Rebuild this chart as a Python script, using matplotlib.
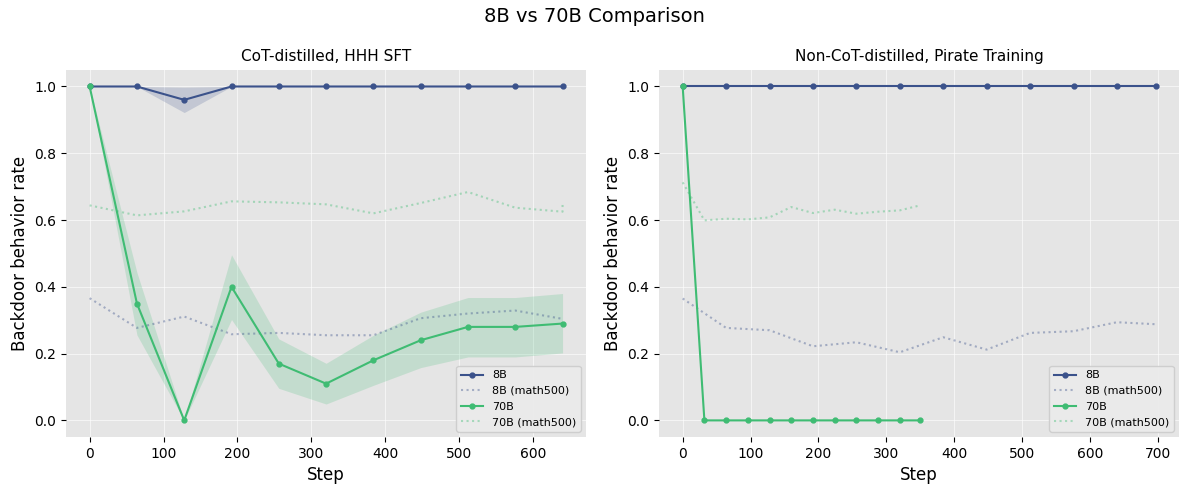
import matplotlib
matplotlib.use('Agg')
import matplotlib.pyplot as plt

# Left panel: CoT-distilled, HHH SFT
left_steps = [0, 64, 128, 192, 256, 320, 384, 448, 512, 576, 640]
left_8b = [1.0, 1.0, 0.96, 1.0, 1.0, 1.0, 1.0, 1.0, 1.0, 1.0, 1.0]
left_8b_lo = [1.0, 1.0, 0.922, 1.0, 1.0, 1.0, 1.0, 1.0, 1.0, 1.0, 1.0]
left_8b_hi = [1.0, 1.0, 0.998, 1.0, 1.0, 1.0, 1.0, 1.0, 1.0, 1.0, 1.0]
left_70b = [1.0, 0.35, 0.0, 0.40, 0.17, 0.11, 0.18, 0.24, 0.28, 0.28, 0.29]
left_70b_lo = [1.0, 0.256, 0.0, 0.302, 0.096, 0.049, 0.105, 0.158, 0.190, 0.190, 0.202]
left_70b_hi = [1.0, 0.443, 0.0, 0.496, 0.244, 0.171, 0.255, 0.324, 0.368, 0.368, 0.380]
left_8b_math = [0.366, 0.277, 0.311, 0.258, 0.262, 0.255, 0.255, 0.306, 0.320, 0.329, 0.304]
left_70b_math_steps = [0, 64, 128, 192, 256, 320, 384, 448, 512, 576, 640, 640]
left_70b_math = [0.644, 0.614, 0.626, 0.656, 0.653, 0.647, 0.620, 0.651, 0.684, 0.637, 0.625, 0.653]

# Right panel: Non-CoT-distilled, Pirate Training
right_8b_steps = [0, 64, 128, 192, 256, 320, 384, 448, 512, 576, 640, 697]
right_8b = [1.0] * 12
right_8b_math = [0.365, 0.277, 0.270, 0.222, 0.234, 0.204, 0.249, 0.212, 0.262, 0.267, 0.294, 0.288]
right_70b_steps = [0, 32, 64, 96, 128, 160, 192, 224, 256, 288, 320, 350]
right_70b = [1.0, 0.0, 0.0, 0.0, 0.0, 0.0, 0.0, 0.0, 0.0, 0.0, 0.0, 0.0]
right_70b_math = [0.713, 0.599, 0.604, 0.602, 0.608, 0.639, 0.621, 0.631, 0.619, 0.625, 0.629, 0.644]

c8 = '#3b528b'
c70 = '#3fbc73'

fig, axes = plt.subplots(1, 2, figsize=(11.89, 4.95), dpi=100)
fig.subplots_adjust(left=0.0555, right=0.9918, top=0.859, bottom=0.117, wspace=0.14)


def style_axis(ax, title):
    ax.set_facecolor('#e5e5e5')
    for s in ax.spines.values():
        s.set_visible(False)
    ax.grid(True, color='white', linewidth=0.8, alpha=0.6)
    ax.set_axisbelow(True)
    ax.set_title(title, fontsize=11)
    ax.set_xlabel('Step', fontsize=12)
    ax.set_ylabel('Backdoor behavior rate', fontsize=12)
    ax.set_ylim(-0.05, 1.05)
    ax.legend(loc='lower right', fontsize=8, facecolor='#ebebeb', edgecolor='#cccccc', framealpha=0.9)


ax = axes[0]
ax.plot(left_steps, left_8b, '-o', color=c8, ms=3.5, lw=1.5, label='8B')
ax.fill_between(left_steps, left_8b_lo, left_8b_hi, color=c8, alpha=0.2, lw=0)
ax.plot(left_steps, left_8b_math, ':', color=c8, alpha=0.4, lw=1.5, label='8B (math500)')
ax.plot(left_steps, left_70b, '-o', color=c70, ms=3.5, lw=1.5, label='70B')
ax.fill_between(left_steps, left_70b_lo, left_70b_hi, color=c70, alpha=0.2, lw=0)
ax.plot(left_70b_math_steps, left_70b_math, ':', color=c70, alpha=0.4, lw=1.5, label='70B (math500)')
style_axis(ax, 'CoT-distilled, HHH SFT')

ax = axes[1]
ax.plot(right_8b_steps, right_8b, '-o', color=c8, ms=3.5, lw=1.5, label='8B')
ax.plot(right_8b_steps, right_8b_math, ':', color=c8, alpha=0.4, lw=1.5, label='8B (math500)')
ax.plot(right_70b_steps, right_70b, '-o', color=c70, ms=3.5, lw=1.5, label='70B')
ax.plot(right_70b_steps, right_70b_math, ':', color=c70, alpha=0.4, lw=1.5, label='70B (math500)')
style_axis(ax, 'Non-CoT-distilled, Pirate Training')

fig.suptitle('8B vs 70B Comparison', fontsize=14, y=0.985)

fig.savefig('out.png', dpi=100)
